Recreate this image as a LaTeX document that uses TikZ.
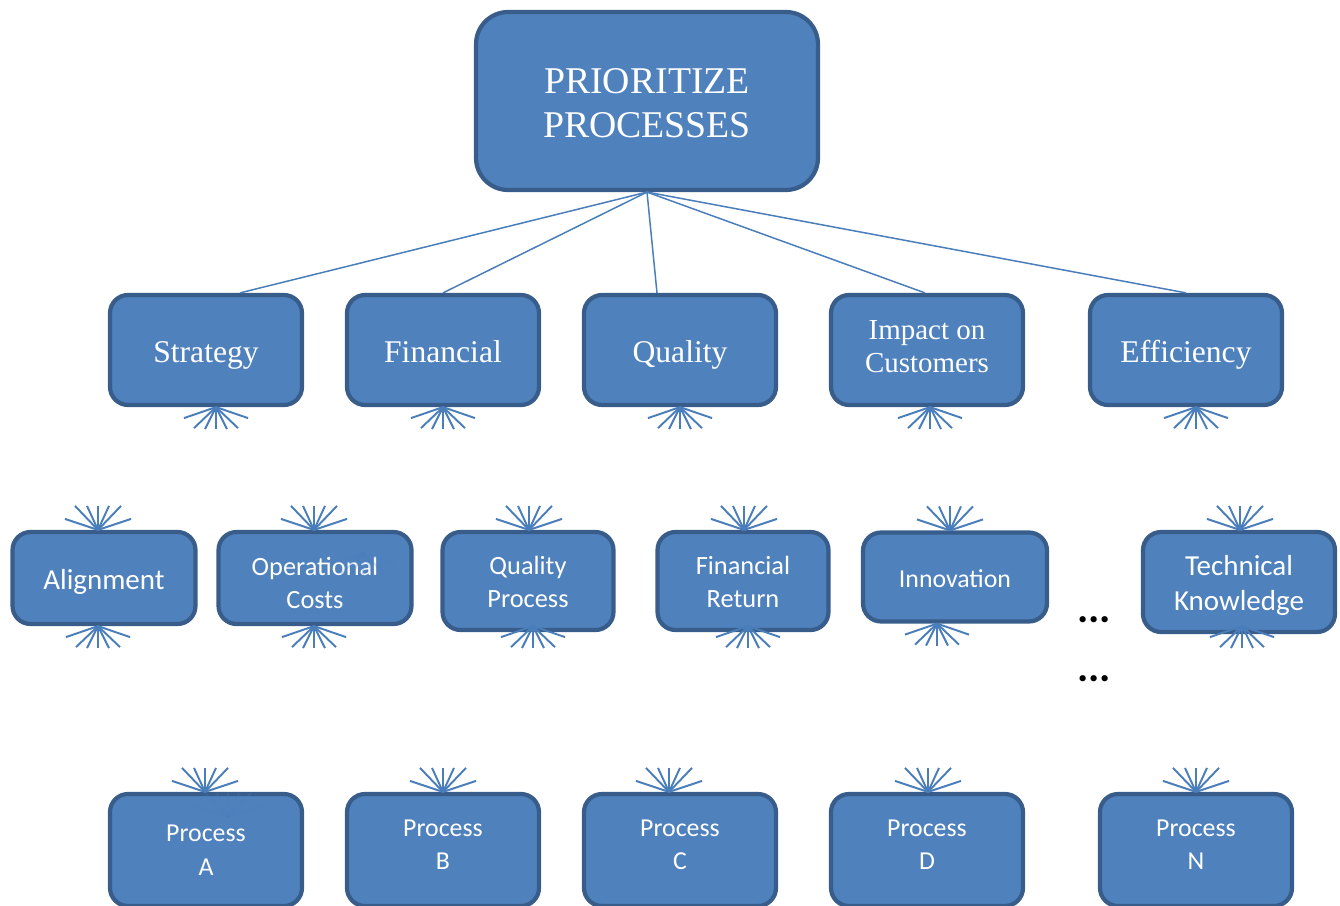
\documentclass[tikz,border=0pt]{standalone}
\usepackage{fontspec}
\setmainfont{Liberation Serif}
\newfontfamily\calibri{Carlito}
\usetikzlibrary{calc}

\definecolor{boxfill}{HTML}{4F81BD}
\definecolor{boxline}{HTML}{385D8A}
\definecolor{wire}{HTML}{4A7EBB}

\tikzset{
  box/.style={draw=boxline, fill=boxfill, line width=2.4pt, rounded corners=0.36cm,
    text=white, align=center, inner sep=0pt, text depth=0pt},
  head/.style={box, rounded corners=0.64cm, minimum width=6.84cm, minimum height=3.56cm,
    font=\fontsize{21.5}{25}\selectfont, text height=41pt},
  crit/.style={box, minimum width=3.84cm, minimum height=2.2cm,
    font=\fontsize{18}{19}\selectfont, text height=13.8pt},
  sub/.style={box, font=\calibri\fontsize{15}{19}\selectfont},
  proc/.style={box, minimum width=3.84cm, minimum height=2.24cm,
    font=\calibri\fontsize{14.7}{19}\selectfont, text height=22.2pt},
  wireline/.style={draw=wire, line width=0.85pt},
  fan/.style={draw=wire, line width=1.1pt},
}

% short bundles of lines leaving a box edge
\newcommand\fandown[1]{\foreach \dx/\dy in {-32/11,-22/21,-11/22,0/22,11/22,22/21,32/11}
  \draw[fan] (#1) -- ++(\dx,\dy);}
\newcommand\fanup[1]{\foreach \dx/\dy in {-33/-11,-23/-24,-11/-24,0/-24,11/-24,23/-24,33/-11}
  \draw[fan] (#1) -- ++(\dx,\dy);}

\begin{document}
\begin{tikzpicture}[x=0.02cm, y=-0.02cm]
\clip (0,0) rectangle (1340,906);
\useasboundingbox (0,0) rectangle (1340,906);

\node[head] (pp) at (647,101) {PRIORITIZE\\PROCESSES};

% criteria
\node[crit] (s) at (206,350) {Strategy};
\node[crit] (f) at (443,350) {Financial};
\node[crit] (q) at (680,350) {Quality};
\node[crit, font=\fontsize{16.5}{18.7}\selectfont, text height=26pt] (ic) at (927,350) {Impact on\\Customers};
\node[crit] (e) at (1186,350) {Efficiency};

\path[wireline] (pp.south) -- ($(s.north)+(34,0)$);
\path[wireline] (pp.south) -- (f.north);
\path[wireline] (pp.south) -- ($(q.north)+(-23,0)$);
\path[wireline] (pp.south) -- ($(ic.north)+(-2,0)$);
\path[wireline] (pp.south) -- (e.north);

% sub-criteria
\node[sub, minimum width=3.66cm, minimum height=1.84cm, font=\calibri\fontsize{16.5}{19}\selectfont, text height=13pt] (al) at (104,578) {Alignment};
\node[sub, minimum width=3.86cm, minimum height=1.84cm, text height=34.6pt] (oc) at (315,578) {Operational\\Costs};
\node[sub, minimum width=3.42cm, minimum height=1.96cm, text height=30.6pt] (qp) at (528,581) {Quality\\Process};
\node[sub, minimum width=3.42cm, minimum height=1.96cm, text height=30.6pt] (fr) at (743,581) {Financial\\Return};
\node[sub, minimum width=3.68cm, minimum height=1.78cm, font=\calibri\fontsize{14.7}{19}\selectfont, text height=11.8pt] (in) at (955,577) {Innovation};
\node[sub, minimum width=3.84cm, minimum height=2cm, font=\calibri\fontsize{16.5}{20}\selectfont, text height=33pt] (tk) at (1239,582) {Technical\\Knowledge};

\node[font=\calibri\bfseries\fontsize{24}{24}\selectfont] (d1) at (1094,620) {...};
\node[font=\calibri\bfseries\fontsize{24}{24}\selectfont] (d2) at (1094,679) {...};

% processes
\node[proc, text height=28.5pt] (pa) at (206,850) {Process\\A};
\node[proc] (pb) at (443,850) {Process\\B};
\node[proc] (pc) at (680,850) {Process\\C};
\node[proc] (pd) at (927,850) {Process\\D};
\node[proc] (pn) at (1196,850) {Process\\N};

\fandown{$(s.south)+(10,0)$}
\fandown{f.south}
\fandown{q.south}
\fandown{$(ic.south)+(3,0)$}
\fandown{$(e.south)+(10,0)$}

\fanup{$(al.north)+(-6,0)$}
\fanup{$(oc.north)+(-1,0)$}
\fanup{$(qp.north)+(1,0)$}
\fanup{$(fr.north)+(1,0)$}
\fanup{$(in.north)+(-5,0)$}
\fanup{$(tk.north)+(1,0)$}

\fandown{$(al.south)+(-6,0)$}
\fandown{$(oc.south)+(-1,0)$}
\fandown{$(qp.south)+(5,-6)$}
\fandown{$(fr.south)+(5,-6)$}
\fandown{$(in.south)+(-18,0)$}
\fandown{$(tk.south)+(3,-8)$}

\fanup{$(pa.north)+(-1,0)$}
\fanup{pb.north}
\fanup{$(pc.north)+(-11,0)$}
\fanup{$(pd.north)+(1,0)$}
\fanup{pn.north}

% faint leftovers inside two boxes
\begin{scope}[opacity=0.25]
\fandown{363,553}
\fanup{228,817}
\end{scope}
\end{tikzpicture}
\end{document}
